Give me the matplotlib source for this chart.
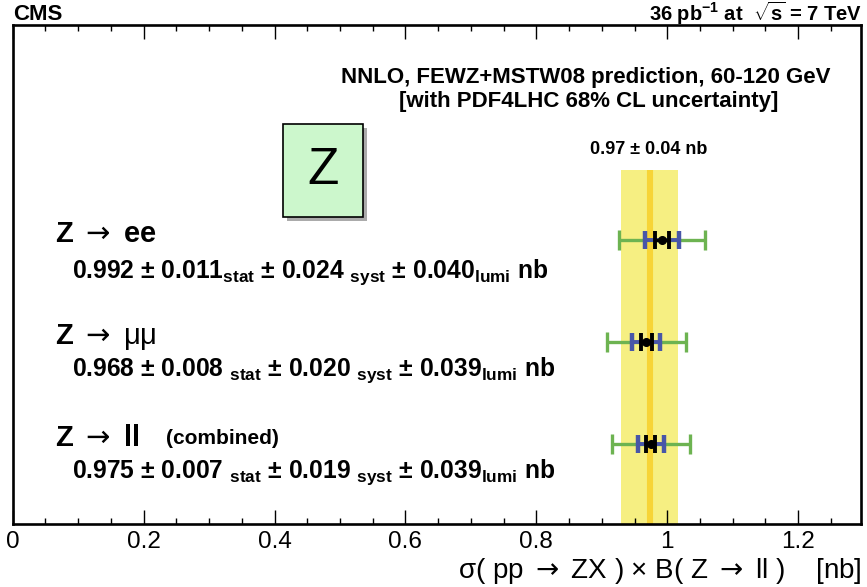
import numpy as np
import matplotlib
matplotlib.use("Agg")
import matplotlib.pyplot as plt
from matplotlib.patches import Rectangle
from matplotlib.ticker import MultipleLocator

plt.rcParams['font.family'] = ['Liberation Sans', 'DejaVu Sans']
plt.rcParams['mathtext.fontset'] = 'custom'
plt.rcParams['mathtext.rm'] = 'Liberation Sans'
plt.rcParams['mathtext.bf'] = 'Liberation Sans:bold'
plt.rcParams['mathtext.it'] = 'Liberation Sans:italic'
plt.rcParams['mathtext.sf'] = 'DejaVu Sans'

# Medidas (nb), de arriba a abajo: ee, mumu, ll
canales = [r"Z $\mathsf{\rightarrow}$ ee",
           r"Z $\mathsf{\rightarrow}$ $\mathrm{μμ}$",
           r"Z $\mathsf{\rightarrow}$ ll"]
sigma   = [0.992, 0.968, 0.975]
stat    = [0.011, 0.008, 0.007]
syst    = [0.024, 0.020, 0.019]
lumi    = [0.040, 0.039, 0.039]

# Predicción NNLO (centro y ancho de la banda)
PRED     = 0.973
PRED_UNC = 0.0435

filas = [3, 2, 1]

W, H = 867, 587
fig = plt.figure(figsize=(W / 100, H / 100), dpi=100)

def fx(x):
    return x / W

def fy(y):
    return 1 - y / H

ax = fig.add_axes([fx(12.7), fy(524), fx(861) - fx(12.7), fy(25) - fy(524)])
ax.set_xlim(0, 1.296)
ybot, ytop = 0.216, 5.108
ax.set_ylim(ybot, ytop)

# banda de la predicción
y_banda = 3.69
ax.fill_betweenx([ybot, y_banda], PRED - PRED_UNC, PRED + PRED_UNC,
                 color='#f6ef82', lw=0, zorder=1)
ax.plot([PRED, PRED], [ybot, y_banda], color='#f7d437', lw=4.4,
        solid_capstyle='butt', zorder=2)

# barras de error: total (stat+syst en cuadratura + lumi), stat+syst, stat
for y, s, e1, e2, e3 in zip(filas, sigma, stat, syst, lumi):
    err_ss = np.hypot(e1, e2)
    err_tot = err_ss + e3
    ax.errorbar(s, y, xerr=err_tot, fmt='none', ecolor='#6db351',
                elinewidth=2.4, capsize=7.0, capthick=2.4, zorder=3)
    ax.errorbar(s, y, xerr=err_ss, fmt='none', ecolor='#4856a8',
                elinewidth=2.8, capsize=6.5, capthick=3.2, zorder=4)
    ax.errorbar(s, y, xerr=e1, fmt='o', color='black', ms=5.5,
                elinewidth=2.4, capsize=6.5, capthick=2.8, zorder=5)

ax.set_yticks([])
ax.xaxis.set_major_locator(MultipleLocator(0.2))
ax.xaxis.set_minor_locator(MultipleLocator(0.05))
ax.tick_params(axis='x', which='both', direction='in', top=True,
               labelsize=17.5, pad=5)
ax.tick_params(axis='x', which='major', length=10, width=1.0)
ax.tick_params(axis='x', which='minor', length=4.5, width=1.0)
ax.set_xticks([0, 0.2, 0.4, 0.6, 0.8, 1.0, 1.2])
ax.set_xticklabels(["0", "0.2", "0.4", "0.6", "0.8", "1", "1.2"])
for sp in ax.spines.values():
    sp.set_linewidth(1.9)

fig.text(fx(862), fy(571),
         r"σ( pp $\mathsf{\rightarrow}$ ZX ) × B( Z $\mathsf{\rightarrow}$ ll )    [nb]",
         ha='right', va='center', fontsize=20)

# cabecera
fig.text(fx(13), fy(20), "CMS", ha='left', va='baseline',
         fontsize=16, fontweight='bold')
fig.text(fx(862), fy(21), r"36 pb$^{\mathbf{-1}}$ at  $\sqrt{\mathbf{s}}$ = 7 TeV",
         ha='right', va='baseline', fontsize=14.5, fontweight='bold')

fig.text(fx(586), fy(77), "NNLO, FEWZ+MSTW08 prediction, 60-120 GeV",
         ha='center', va='center', fontsize=16, fontweight='bold')
fig.text(fx(589), fy(101), "[with PDF4LHC 68% CL uncertainty]",
         ha='center', va='center', fontsize=16, fontweight='bold')
fig.text(fx(649), fy(150), f"{PRED:.2f} ± {PRED_UNC:.2f} nb",
         ha='center', va='center', fontsize=13, fontweight='bold')

# recuadro "Z" con sombra
fig.patches.append(Rectangle((fx(287), fy(221)), fx(80), fy(124) - fy(217),
                             transform=fig.transFigure, facecolor='#666666',
                             edgecolor='none', alpha=0.55, zorder=0))
fig.patches.append(Rectangle((fx(283), fy(217)), fx(80), fy(124) - fy(217),
                             transform=fig.transFigure, facecolor='#ccf7cc',
                             edgecolor='black', lw=1.2, zorder=1))
fig.text(fx(323), fy(171), "Z", ha='center', va='center', fontsize=37,
         fontstyle='normal', fontweight='normal')

# etiquetas de cada canal
y_canal = [234, 337, 438]
y_valor = [272, 370, 472]
textos = [
    r"0.992 ± $\mathbf{0.011}_{\mathbf{stat}}$ ± $\mathbf{0.024}\ _{\mathbf{syst}}$ ± $\mathbf{0.040}_{\mathbf{lumi}}$ nb",
    r"0.968 ± $\mathbf{0.008}\ _{\mathbf{stat}}$ ± $\mathbf{0.020}\ _{\mathbf{syst}}$ ± $\mathbf{0.039}_{\mathbf{lumi}}$ nb",
    r"0.975 ± $\mathbf{0.007}\ _{\mathbf{stat}}$ ± $\mathbf{0.019}\ _{\mathbf{syst}}$ ± $\mathbf{0.039}_{\mathbf{lumi}}$ nb",
]
for nombre, yc, yv, txt in zip(canales, y_canal, y_valor, textos):
    fig.text(fx(55), fy(yc), nombre, ha='left', va='center',
             fontsize=21, fontweight='bold')
    fig.text(fx(72), fy(yv), txt, ha='left', va='center',
             fontsize=17.7, fontweight='bold')
fig.text(fx(166), fy(438), "(combined)", ha='left', va='center',
         fontsize=15, fontweight='bold')

fig.savefig("out.png", dpi=100)
